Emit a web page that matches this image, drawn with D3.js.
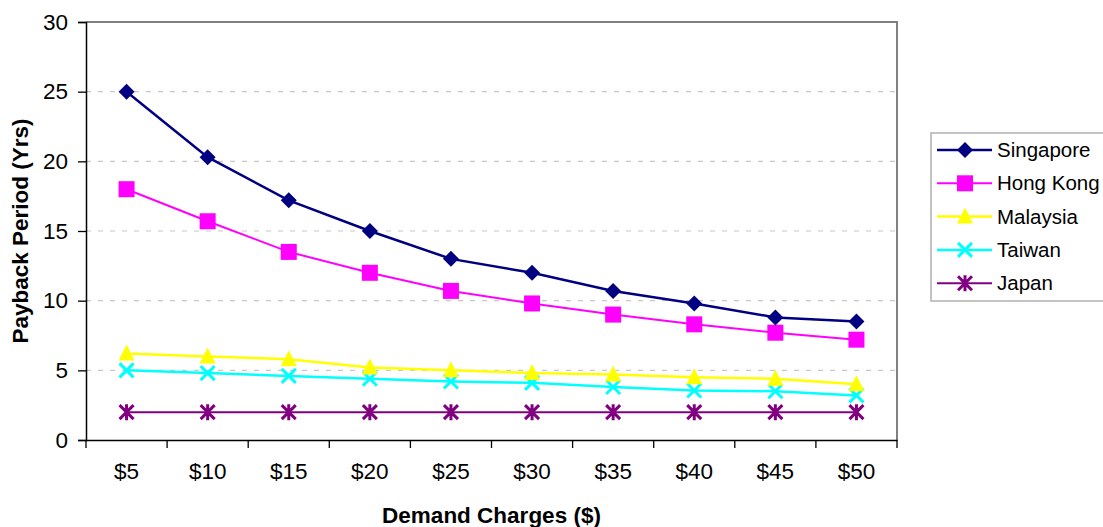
<!DOCTYPE html>
<html>
<head>
<meta charset="utf-8">
<script src="https://cdn.jsdelivr.net/npm/d3@7"></script>
<style>
  html, body { margin: 0; padding: 0; background: #fff; }
  svg { display: block; font-family: Arial, "Liberation Sans", sans-serif; }
</style>
</head>
<body>
<svg id="chart" width="1103" height="527"></svg>
<script>
  // Chart data.
  const categories = ["$5", "$10", "$15", "$20", "$25", "$30", "$35", "$40", "$45", "$50"];
  const singapore = [25, 20.3, 17.2, 15, 13, 12, 10.7, 9.8, 8.8, 8.5];
  const hongKong = [18, 15.7, 13.5, 12, 10.7, 9.8, 9.0, 8.3, 7.7, 7.2];
  const malaysia = [6.2, 6.0, 5.8, 5.2, 5.0, 4.8, 4.7, 4.5, 4.4, 4.0];
  const taiwan = [5.0, 4.8, 4.6, 4.4, 4.2, 4.1, 3.8, 3.55, 3.5, 3.2];
  const japan = [2, 2, 2, 2, 2, 2, 2, 2, 2, 2];
  const yTicks = [0, 5, 10, 15, 20, 25, 30];

  (function () {
    let series = [
      { name: "Singapore", values: singapore, color: "#000080", marker: "diamond", width: 2.5 },
      { name: "Hong Kong", values: hongKong, color: "#ff00ff", marker: "square", width: 2 },
      { name: "Malaysia", values: malaysia, color: "#ffff00", marker: "triangle", width: 2.5 },
      { name: "Taiwan", values: taiwan, color: "#00ffff", marker: "cross", width: 2.5 },
      { name: "Japan", values: japan, color: "#800080", marker: "star", width: 2 },
    ];

    const plotLeft = 86, plotRight = 897, plotTop = 22, plotBottom = 440;

    let svg = d3.select("#chart");

    let x = d3.scaleBand().domain(categories).range([plotLeft, plotRight]).padding(0);
    let y = d3.scaleLinear().domain([0, 30]).range([plotBottom, plotTop]);

    // Gridlines.
    svg.append("g")
      .selectAll("line")
      .data(yTicks.filter((d) => d > 0 && d < 30))
      .enter().append("line")
      .attr("x1", plotLeft).attr("x2", plotRight)
      .attr("y1", (d) => y(d)).attr("y2", (d) => y(d))
      .attr("stroke", "#c8c8c8")
      .attr("stroke-width", 1.2)
      .attr("stroke-dasharray", "5,7");

    // Plot frame (top and right in gray).
    svg.append("path")
      .attr("d", `M${plotLeft},${plotTop}H${plotRight}V${plotBottom}`)
      .attr("fill", "none")
      .attr("stroke", "#808080")
      .attr("stroke-width", 2);

    // Y axis.
    let yAxis = svg.append("g")
      .attr("transform", `translate(${plotLeft},0)`)
      .call(d3.axisLeft(y).tickValues(yTicks).tickSize(8).tickPadding(10));
    yAxis.select(".domain").attr("stroke", "#000").attr("stroke-width", 1.5);
    yAxis.selectAll(".tick line").attr("stroke", "#000").attr("stroke-width", 1.3);
    yAxis.selectAll("text").attr("font-size", 22.5).attr("font-family", "Arial, 'Liberation Sans'").attr("fill", "#000");

    // X axis with ticks between categories.
    let xAxis = svg.append("g")
      .attr("transform", `translate(0,${plotBottom})`)
      .call(d3.axisBottom(x).tickSize(0).tickPadding(23));
    xAxis.select(".domain").attr("stroke", "#000").attr("stroke-width", 1.5);
    xAxis.selectAll("text").attr("font-size", 22.5).attr("font-family", "Arial, 'Liberation Sans'").attr("fill", "#000");
    xAxis.selectAll(".sep")
      .data(categories.map((c) => x(c)).concat([x(categories[categories.length - 1]) + x.bandwidth()]))
      .enter().append("line")
      .attr("class", "sep")
      .attr("x1", (d) => d).attr("x2", (d) => d)
      .attr("y1", 0).attr("y2", 8)
      .attr("stroke", "#000").attr("stroke-width", 1.3);

    // Axis titles.
    svg.append("text")
      .attr("x", (plotLeft + plotRight) / 2).attr("y", 523)
      .attr("text-anchor", "middle")
      .attr("font-size", 22.5).attr("font-weight", "bold")
      .text("Demand Charges ($)");

    svg.append("text")
      .attr("transform", `translate(28,${(plotTop + plotBottom) / 2}) rotate(-90)`)
      .attr("text-anchor", "middle")
      .attr("font-size", 22.5).attr("font-weight", "bold")
      .text("Payback Period (Yrs)");

    // Marker drawer.
    function drawMarker(g, type, color) {
      if (type === "diamond") {
        g.append("path").attr("d", "M0,-8L8,0L0,8L-8,0Z").attr("fill", color);
      } else if (type === "square") {
        g.append("rect").attr("x", -8).attr("y", -8).attr("width", 16).attr("height", 16).attr("fill", color);
      } else if (type === "triangle") {
        g.append("path").attr("d", "M0,-9L8,7L-8,7Z").attr("fill", color);
      } else if (type === "cross") {
        g.append("path").attr("d", "M-7,-7L7,7M-7,7L7,-7").attr("stroke", color).attr("stroke-width", 3);
      } else if (type === "star") {
        g.append("path").attr("d", "M-7,-7L7,7M-7,7L7,-7M0,-8V8").attr("stroke", color).attr("stroke-width", 3);
      }
    }

    let line = d3.line()
      .x((d, i) => x(categories[i]) + x.bandwidth() / 2)
      .y((d) => y(d));

    // Lines and markers, drawn from bottom series up.
    series.slice().reverse().forEach((s) => {
      svg.append("path")
        .datum(s.values)
        .attr("d", line)
        .attr("fill", "none")
        .attr("stroke", s.color)
        .attr("stroke-width", s.width);
      s.values.forEach((v, i) => {
        let g = svg.append("g")
          .attr("transform", `translate(${x(categories[i]) + x.bandwidth() / 2},${y(v)})`);
        drawMarker(g, s.marker, s.color);
      });
    });

    // Legend.
    let legend = svg.append("g");
    legend.append("rect")
      .attr("x", 931).attr("y", 133)
      .attr("width", 180).attr("height", 168)
      .attr("fill", "#fff")
      .attr("stroke", "#b0b0b0").attr("stroke-width", 1.5);

    series.forEach((s, i) => {
      let ly = 150 + i * 33.3;
      legend.append("line")
        .attr("x1", 937).attr("x2", 992)
        .attr("y1", ly).attr("y2", ly)
        .attr("stroke", s.color).attr("stroke-width", s.width);
      let g = legend.append("g").attr("transform", `translate(965,${ly})`);
      drawMarker(g, s.marker, s.color);
      legend.append("text")
        .attr("x", 997).attr("y", ly + 7)
        .attr("font-size", 20.5)
        .text(s.name);
    });
  })();
</script>
</body>
</html>
